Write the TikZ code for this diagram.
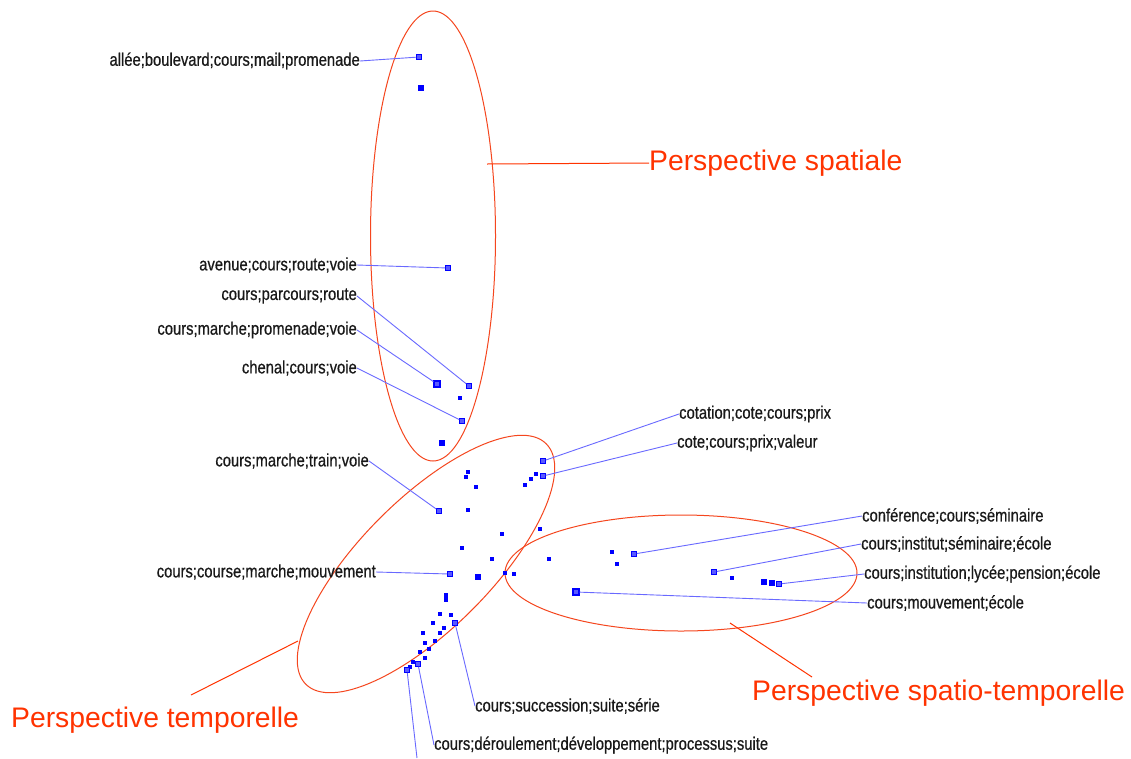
\documentclass[tikz,border=0pt]{standalone}
\usepackage{fontspec}
\setmainfont{Liberation Sans}
\newfontfamily\labfont[FakeStretch=0.82,FakeBold=0.6]{Liberation Sans}
\definecolor{ptblue}{RGB}{0,0,255}
\definecolor{lnblue}{RGB}{105,105,255}
\definecolor{persred}{RGB}{255,51,0}
\definecolor{ellred}{RGB}{245,70,30}
\definecolor{labgray}{RGB}{25,25,25}
\begin{document}
\begin{tikzpicture}[x=1pt,y=-1pt,
 dot/.style={rectangle,fill=ptblue,inner sep=0pt,minimum size=3.8pt},
 bigdot/.style={dot,minimum size=5.8pt},
 bar/.style={dot,minimum width=3.8pt,minimum height=9pt},
 ldot/.style={rectangle,draw=ptblue,fill=ptblue!65,line width=1.1pt,inner sep=0pt,minimum size=4.5pt},
 lbdot/.style={ldot,minimum size=6pt},
 lab/.style={font=\labfont\fontsize{18}{20}\selectfont,text=labgray,inner sep=0pt},
 labL/.style={lab,anchor=east},
 labR/.style={lab,anchor=west},
 conn/.style={draw=lnblue,line width=0.9pt},
 pers/.style={font=\fontsize{28.3}{30}\selectfont,text=persred,inner sep=0pt,anchor=west},
 ell/.style={draw=ellred,line width=1pt},
 plink/.style={draw=persred,line width=1pt}]
\fill[white] (0,0) rectangle (1131,758);
\useasboundingbox (0,0) rectangle (1131,758);

% ellipses
\draw[ell] (433,236) ellipse [x radius=62.5, y radius=225];
\draw[ell, rotate around={45:(426,564)}] (426,564) ellipse [x radius=170, y radius=65];
\draw[ell] (681,573) ellipse [x radius=176, y radius=58];

% perspective labels
\node[pers] (ps) at (649,163) {Perspective spatiale};
\coordinate (psA) at (487,164);
\draw[plink] (psA) -- (ps.west);
\node[pers] (pst) at (752,693) {Perspective spatio-temporelle};
\coordinate (pstA) at (730,623);
\coordinate (pstB) at (812,677);
\draw[plink] (pstA) -- (pstB);
\node[pers] (pt) at (11,720) {Perspective temporelle};
\coordinate (ptA) at (298,641);
\coordinate (ptB) at (191,695);
\draw[plink] (ptA) -- (ptB);

% spatial points
\node[ldot] (p1) at (419,57) {};
\node[bigdot] (p2) at (421,88) {};
\node[ldot] (p3) at (448,268) {};
\node[ldot] (p4) at (469,386) {};
\node[lbdot] (p5) at (437,384) {};
\node[dot] (p6) at (460,398) {};
\node[ldot] (p7) at (462,421) {};
\node[bigdot] (p8) at (442,443) {};

% temporal points
\node[ldot] (q1) at (543,461) {};
\node[ldot] (q2) at (543,476) {};
\node[dot] (q3) at (536,474) {};
\node[dot] (q4) at (531,479) {};
\node[dot] (q5) at (525,485) {};
\node[dot] (q6) at (468,472) {};
\node[dot] (q7) at (466,477) {};
\node[dot] (q8) at (476,487) {};
\node[ldot] (q9) at (439,511) {};
\node[dot] (q10) at (468,510) {};
\node[dot] (q11) at (540,529) {};
\node[dot] (q12) at (502,534) {};
\node[dot] (q13) at (462,548) {};
\node[dot] (q14) at (492,559) {};
\node[dot] (q15) at (549,559) {};
\node[ldot] (q16) at (450,574) {};
\node[bigdot] (q17) at (478,577) {};
\node[dot] (q18) at (505,573) {};
\node[dot] (q19) at (514,574) {};
\node[bar] (q20) at (446,597) {};

% bottom cluster
\node[dot] (s1) at (440,614) {};
\node[dot] (s2) at (451,615) {};
\node[ldot] (s3) at (455,623) {};
\node[dot] (s4) at (433,623) {};
\node[dot] (s5) at (423,633) {};
\node[dot] (s6) at (440,633) {};
\node[dot] (s7) at (444,628) {};
\node[dot] (s8) at (435,641) {};
\node[dot] (s9) at (425,643) {};
\node[dot] (s10) at (429,649) {};
\node[dot] (s11) at (420,652) {};
\node[dot] (s12) at (425,658) {};
\node[ldot] (s13) at (418,664) {};
\node[dot] (s14) at (413,662) {};
\node[dot] (s15) at (410,667) {};
\node[ldot] (s16) at (407,670) {};

% spatio-temporal points
\node[ldot] (r1) at (634,554) {};
\node[dot] (r2) at (612,552) {};
\node[dot] (r3) at (617,564) {};
\node[ldot] (r4) at (714,572) {};
\node[dot] (r5) at (732,578) {};
\node[bigdot] (r6) at (764,582) {};
\node[bigdot] (r7) at (772,583) {};
\node[ldot] (r8) at (779,584) {};
\node[lbdot] (r9) at (576,592) {};

% left labels
\node[labL] (L1) at (360,61) {allée;boulevard;cours;mail;promenade};
\node[labL] (L2) at (357,265) {avenue;cours;route;voie};
\node[labL] (L3) at (357,296) {cours;parcours;route};
\node[labL] (L4) at (357,330) {cours;marche;promenade;voie};
\node[labL] (L5) at (357,368) {chenal;cours;voie};
\node[labL] (L6) at (369,461) {cours;marche;train;voie};
\node[labL] (L7) at (376,572) {cours;course;marche;mouvement};
% right labels
\node[labR] (R1) at (679,414) {cotation;cote;cours;prix};
\node[labR] (R2) at (677,443) {cote;cours;prix;valeur};
\node[labR] (R3) at (862,516) {conférence;cours;séminaire};
\node[labR] (R4) at (861,544) {cours;institut;séminaire;école};
\node[labR] (R5) at (864,574) {cours;institution;lycée;pension;école};
\node[labR] (R6) at (867,603) {cours;mouvement;école};
\node[labR] (B1) at (475,706) {cours;succession;suite;série};
\node[labR] (B2) at (434,745) {cours;déroulement;développement;processus;suite};

% connectors
\draw[conn] (L1.east) -- (p1);
\draw[conn] (L2.east) -- (p3);
\draw[conn] (L3.east) -- (p4);
\draw[conn] (L4.east) -- (p5);
\draw[conn] (L5.east) -- (p7);
\draw[conn] (L6.east) -- (q9);
\draw[conn] (L7.east) -- (q16);
\draw[conn] (R1.west) -- (q1);
\draw[conn] (R2.west) -- (q2);
\draw[conn] (R3.west) -- (r1);
\draw[conn] (R4.west) -- (r4);
\draw[conn] (R5.west) -- (r8);
\draw[conn] (R6.west) -- (r9);
\draw[conn] (B1.west) -- (s3);
\draw[conn] (B2.west) -- (s13);
\coordinate (bEnd) at (417,758);
\draw[conn] (s16) -- (bEnd);
\end{tikzpicture}
\end{document}
